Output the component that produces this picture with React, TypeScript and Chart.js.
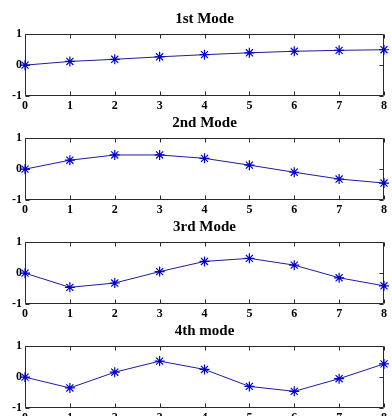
import React, { useEffect, useRef } from "react";
import { Chart, registerables } from "chart.js";

Chart.register(...registerables);

const xValues = [0, 1, 2, 3, 4, 5, 6, 7, 8];
const mode1 = [0, 0.12, 0.19, 0.27, 0.34, 0.4, 0.45, 0.48, 0.5];
const mode2 = [0, 0.29, 0.46, 0.46, 0.35, 0.13, -0.1, -0.32, -0.45];
const mode3 = [0, -0.46, -0.32, 0.05, 0.38, 0.48, 0.26, -0.15, -0.41];
const mode4 = [0, -0.35, 0.16, 0.52, 0.25, -0.3, -0.46, -0.05, 0.43];
const titles = ["1st Mode", "2nd Mode", "3rd Mode", "4th mode"];
const xTicks = [0, 1, 2, 3, 4, 5, 6, 7, 8];
const yTicks = [-1, 0, 1];

const FONT = "'Liberation Serif', 'Times New Roman', serif";

const boxPlugin = {
  id: "matlabBox",
  beforeDatasetsDraw(chart: any) {
    const { ctx, chartArea, scales } = chart;
    const L = Math.round(chartArea.left) + 0.5;
    const R = Math.round(chartArea.right) - 0.5;
    const T = Math.round(chartArea.top) + 0.5;
    const B = Math.round(chartArea.bottom) - 0.5;
    ctx.save();
    ctx.strokeStyle = "#2a2a2a";
    ctx.lineWidth = 1;
    ctx.beginPath();
    ctx.rect(L, T, R - L, B - T);
    const tl = 4;
    xTicks.forEach((v) => {
      const px = Math.round(scales.x.getPixelForValue(v)) + 0.5;
      ctx.moveTo(px, B);
      ctx.lineTo(px, B - tl);
      ctx.moveTo(px, T);
      ctx.lineTo(px, T + tl);
    });
    yTicks.forEach((v) => {
      const py = Math.round(scales.y.getPixelForValue(v)) + 0.5;
      ctx.moveTo(L, py);
      ctx.lineTo(L + tl, py);
      ctx.moveTo(R, py);
      ctx.lineTo(R - tl, py);
    });
    ctx.stroke();
    ctx.restore();
  },
};

function ModePlot({ title, values, top }: { title: string; values: number[]; top: number }) {
  const ref = useRef<HTMLCanvasElement | null>(null);
  useEffect(() => {
    if (!ref.current) return;
    const chart = new Chart(ref.current, {
      type: "line",
      data: {
        datasets: [
          {
            data: xValues.map((x, i) => ({ x, y: values[i] })),
            borderColor: "#1c1ca0",
            borderWidth: 1,
            pointStyle: "star",
            pointRadius: 5,
            pointBorderColor: "#0000d0",
            pointBackgroundColor: "#0000d0",
            pointBorderWidth: 1.2,
            tension: 0,
            clip: false as any,
          },
        ],
      },
      options: {
        animation: false,
        responsive: false,
        events: [],
        layout: { padding: { left: 0, right: 8, top: 0, bottom: 0 } },
        plugins: {
          legend: { display: false },
          tooltip: { enabled: false },
          title: {
            display: true,
            text: title,
            fullSize: false,
            color: "#000",
            font: { family: FONT, size: 15, weight: "bold" },
            padding: { top: 10.5, bottom: 5.8 },
          },
        },
        scales: {
          x: {
            type: "linear",
            min: 0,
            max: 8,
            grid: { display: false, drawTicks: false },
            border: { display: false },
            ticks: {
              stepSize: 1,
              autoSkip: false,
              maxRotation: 0,
              color: "#000",
              padding: 3,
              font: { family: FONT, size: 12, weight: "bold" },
            },
            afterFit: (s: any) => {
              s.height = 20;
            },
          },
          y: {
            type: "linear",
            min: -1,
            max: 1,
            grid: { display: false, drawTicks: false },
            border: { display: false },
            ticks: {
              stepSize: 1,
              color: "#000",
              padding: 3,
              font: { family: FONT, size: 12, weight: "bold" },
            },
            afterFit: (s: any) => {
              s.width = 25;
            },
          },
        },
      },
      plugins: [boxPlugin],
    });
    return () => chart.destroy();
  }, [title, values]);
  return (
    <canvas
      ref={ref}
      width={392}
      height={116}
      style={{ position: "absolute", left: 0, top, width: 392, height: 116, display: "block" }}
    />
  );
}

export default function App() {
  const series = [mode1, mode2, mode3, mode4];
  return (
    <div
      style={{
        position: "fixed",
        left: 0,
        top: 0,
        width: 392,
        height: 416,
        overflow: "hidden",
        background: "#fff",
      }}
    >
      {series.map((vals, k) => (
        <ModePlot key={k} title={titles[k]} values={vals} top={104 * k} />
      ))}
    </div>
  );
}
